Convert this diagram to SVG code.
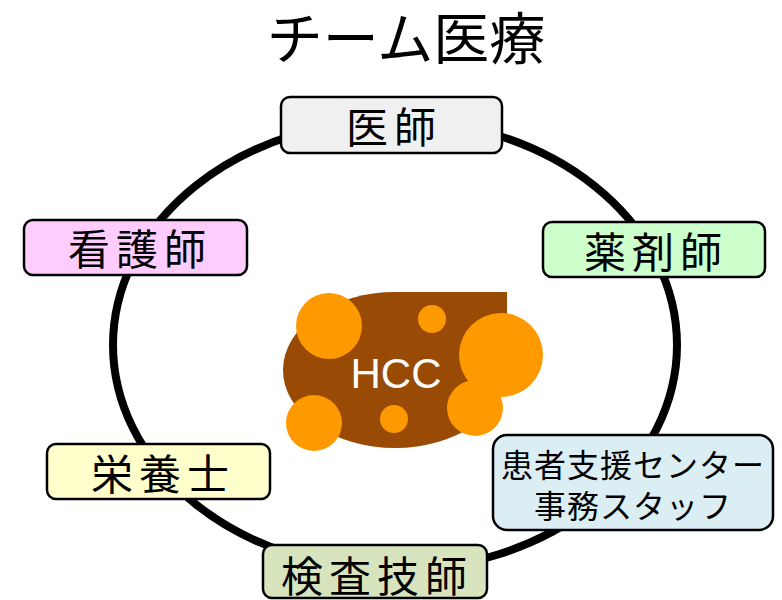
<svg xmlns="http://www.w3.org/2000/svg" width="782" height="600" viewBox="0 0 782 600">
  <style>
    .box { stroke: #000; stroke-width: 2.5; }
    .lbl { font-family: "Noto Sans CJK JP", "Noto Sans", sans-serif; font-size: 42px; letter-spacing: 6px; fill: #000; text-anchor: middle; }
    .lbl2 { font-family: "Noto Sans CJK JP", "Noto Sans", sans-serif; font-size: 32px; letter-spacing: 1px; fill: #000; text-anchor: middle; }
    .title { font-family: "Noto Sans CJK JP", "Noto Sans", sans-serif; font-size: 56px; fill: #000; text-anchor: middle; }
    .tumor { fill: #ff9900; }
  </style>
  <rect width="782" height="600" fill="#fff"/>

  <text class="title" x="406" y="59">チーム医療</text>

  <!-- ring connecting the team -->
  <g id="connectors">
    <ellipse cx="395" cy="345" rx="282" ry="225" fill="none" stroke="#000" stroke-width="8"/>
  </g>

  <!-- HCC -->
  <g id="hcc">
    <path d="M395,292 L507,292 L507,370 A112,78 0 0 1 395,448 A112,78 0 0 1 283,370 A112,78 0 0 1 395,292 Z" fill="#994a05"/>
    <circle class="tumor" cx="329" cy="326" r="33"/>
    <circle class="tumor" cx="432" cy="319" r="14"/>
    <circle class="tumor" cx="501" cy="355" r="42"/>
    <circle class="tumor" cx="475" cy="408" r="28"/>
    <circle class="tumor" cx="314" cy="423" r="28"/>
    <circle class="tumor" cx="394" cy="419" r="14"/>
    <text x="396" y="388" font-family="Liberation Sans, Arial, sans-serif" font-size="42" fill="#fff" text-anchor="middle">HCC</text>
  </g>

  <g id="doctor">
    <rect class="box" x="281" y="97" width="221" height="56" rx="9" fill="#f0f0f0"/>
    <text class="lbl" x="394" y="143">医師</text>
  </g>

  <g id="nurse">
    <rect class="box" x="24" y="220" width="223" height="55" rx="9" fill="#ffccff"/>
    <text class="lbl" x="140" y="265">看護師</text>
  </g>

  <g id="pharmacist">
    <rect class="box" x="543" y="222" width="222" height="55" rx="9" fill="#ccffcc"/>
    <text class="lbl" x="656" y="268">薬剤師</text>
  </g>

  <g id="dietitian">
    <rect class="box" x="47" y="444" width="223" height="55" rx="9" fill="#ffffcc"/>
    <text class="lbl" x="163" y="490">栄養士</text>
  </g>

  <g id="support">
    <rect class="box" x="493" y="435" width="280" height="95" rx="14" fill="#dbeef4"/>
    <text class="lbl2" x="633" y="477">患者支援センター</text>
    <text class="lbl2" x="633" y="518">事務スタッフ</text>
  </g>

  <g id="technician">
    <rect class="box" x="263" y="545" width="224" height="53" rx="9" fill="#d7e4bd"/>
    <text class="lbl" x="377" y="592">検査技師</text>
  </g>
</svg>
